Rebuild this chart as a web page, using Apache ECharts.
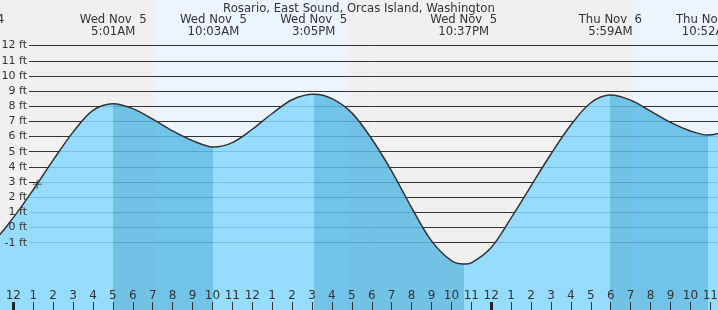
<!DOCTYPE html>
<html><head><meta charset="utf-8">
<script src="https://cdn.jsdelivr.net/npm/echarts@6/dist/echarts.min.js"></script>
<style>html,body{margin:0;padding:0;background:#f0f0f0;overflow:hidden}#c{width:718px;height:310px}</style>
</head><body><div id="c"></div>
<script>
// ---- data ----
const chartTitle = 'Rosario, East Sound, Orcas Island, Washington';
// hours since Wed Nov 5 00:00, water height in ft
const tideHours = [-2, -1, 0, 1, 2, 3, 4, 5.017, 6, 7, 8, 9, 10.05, 11, 12, 13, 14, 15.083, 16, 17, 18, 19, 20, 21, 22, 22.617, 23, 24, 25, 26, 27, 28, 29, 29.983, 31, 32, 33, 34, 34.867, 36];
const tideFeet  = [-1.4, -0.88, 0.65, 2.49, 4.44, 6.29, 7.73, 8.17, 7.84, 7.15, 6.37, 5.73, 5.31, 5.6, 6.48, 7.52, 8.43, 8.79, 8.5, 7.56, 5.84, 3.72, 1.31, -0.88, -2.19, -2.41, -2.33, -1.32, 0.63, 2.75, 4.85, 6.76, 8.23, 8.74, 8.4, 7.68, 6.93, 6.37, 6.10, 6.45];
// high / low tide events
const eventHours = [-2.0, 5.017, 10.05, 15.083, 22.617, 29.983, 34.867];
const eventTypes = ['low', 'high', 'low', 'high', 'low', 'high', 'low'];
const eventDays  = ['Tue Nov  4', 'Wed Nov  5', 'Wed Nov  5', 'Wed Nov  5', 'Wed Nov  5', 'Thu Nov  6', 'Thu Nov  6'];
const eventTimes = ['10:00PM', '5:01AM', '10:03AM', '3:05PM', '10:37PM', '5:59AM', '10:52AM'];
// daylight (sunrise, sunset) in hours
const dayBands = [[7.12, 16.75], [31.13, 40.7]];
const midnightHours = [0, 24];
const nowPoint = [1.2, 2.85];
const feetMin = -1, feetMax = 12;
// ---- view ----
const hourMin = -3, hourMax = 36;
const yViewMin = -5.442, yViewMax = 15.007;
const FONT = 'DejaVu Sans';
const TXT = '#333';
const LIGHT = '#86D8FF', DARK = '#5CBAE4', DAY = '#ECF5FF';

const pieces = [];
pieces.push({lt: eventHours[0], color: eventTypes[0] === 'low' ? DARK : LIGHT});
for (let i = 0; i < eventHours.length - 1; i++) {
  pieces.push({gte: eventHours[i], lt: eventHours[i + 1], color: eventTypes[i] === 'high' ? DARK : LIGHT});
}
pieces.push({gte: eventHours[eventHours.length - 1], color: eventTypes[eventHours.length - 1] === 'high' ? DARK : LIGHT});

function hourLabel(v) { const h = ((Math.round(v) % 12) + 12) % 12; return String(h === 0 ? 12 : h); }
function eventLabel(v) {
  let best = 0;
  for (let i = 0; i < eventHours.length; i++) if (Math.abs(eventHours[i] - v) < Math.abs(eventHours[best] - v)) best = i;
  return eventDays[best] + '\n' + eventTimes[best];
}
function bandItem(params, api) {
  const p0 = api.coord([api.value(0), yViewMax]);
  const p1 = api.coord([api.value(1), yViewMin]);
  return {type: 'rect', shape: {x: p0[0], y: p0[1], width: p1[0] - p0[0], height: p1[1] - p0[1]}, style: {fill: DAY}};
}

const noLine = {show: false, onZero: false};
const chart = echarts.init(document.getElementById('c'));
chart.setOption({
  backgroundColor: '#f0f0f0',
  animation: false,
  title: {text: chartTitle, left: 'center', top: -2.5, textStyle: {fontFamily: FONT, fontSize: 11.7, fontWeight: 'normal', color: TXT}},
  grid: [
    {left: 13.3 + hourMin * 19.914, right: 718 - (13.3 + hourMax * 19.914), top: 0, bottom: 0, outerBoundsMode: 'none', containLabel: false},
    {left: 29, right: 0, top: 45.6, bottom: 67.3, outerBoundsMode: 'none', containLabel: false}
  ],
  xAxis: [
    {gridIndex: 0, type: 'value', min: hourMin, max: hourMax, interval: 1, position: 'bottom', z: 5,
      axisLine: noLine, splitLine: {show: false},
      axisTick: {inside: true, length: 8, lineStyle: {color: TXT, width: 1}},
      axisLabel: {inside: true, margin: 8, formatter: hourLabel, fontFamily: FONT, fontSize: 12, color: TXT}},
    {gridIndex: 0, type: 'value', min: hourMin, max: hourMax, position: 'bottom', z: 6,
      axisLine: noLine, splitLine: {show: false}, axisLabel: {show: false},
      axisTick: {inside: true, length: 8, customValues: midnightHours, lineStyle: {color: '#222', width: 3}}},
    {gridIndex: 0, type: 'value', min: hourMin, max: hourMax, position: 'top', z: 5,
      axisLine: noLine, splitLine: {show: false}, axisTick: {show: false},
      axisLabel: {inside: true, margin: 13.5, customValues: eventHours, formatter: eventLabel, fontFamily: FONT, fontSize: 11.7, lineHeight: 12.5, color: TXT, align: 'center'}},
    {gridIndex: 1, type: 'value', min: hourMin, max: hourMax, show: false, axisLine: noLine}
  ],
  yAxis: [
    {gridIndex: 0, type: 'value', min: yViewMin, max: yViewMax, show: false, axisLine: noLine},
    {gridIndex: 1, type: 'value', min: feetMin, max: feetMax, interval: 1, position: 'left', z: 1,
      axisLine: noLine, axisTick: {show: false}, axisLabel: {show: false},
      splitLine: {show: true, lineStyle: {color: TXT, width: 1}}},
    {gridIndex: 1, type: 'value', min: feetMin, max: feetMax, interval: 1, position: 'left', z: 5,
      axisLine: noLine, axisTick: {show: false}, splitLine: {show: false},
      axisLabel: {margin: 2, formatter: v => v + ' ft', fontFamily: FONT, fontSize: 11, color: TXT}}
  ],
  visualMap: {type: 'piecewise', show: false, seriesIndex: 1, dimension: 0, pieces: pieces},
  series: [
    {type: 'custom', xAxisIndex: 0, yAxisIndex: 0, z: 0, silent: true, data: dayBands, renderItem: bandItem},
    {type: 'line', xAxisIndex: 0, yAxisIndex: 0, z: 2, silent: true,
      data: tideHours.map((h, i) => [h, tideFeet[i]]), smooth: 0.33, showSymbol: false,
      lineStyle: {color: TXT, width: 1.5}, areaStyle: {origin: 'start', opacity: 0.85}},
    {type: 'scatter', xAxisIndex: 0, yAxisIndex: 0, z: 7, silent: true, data: [nowPoint],
      symbol: 'path://M0 4H9V5H0Z M4 0H5V9H4Z', symbolSize: 9, itemStyle: {color: TXT}}
  ]
});
</script></body></html>
